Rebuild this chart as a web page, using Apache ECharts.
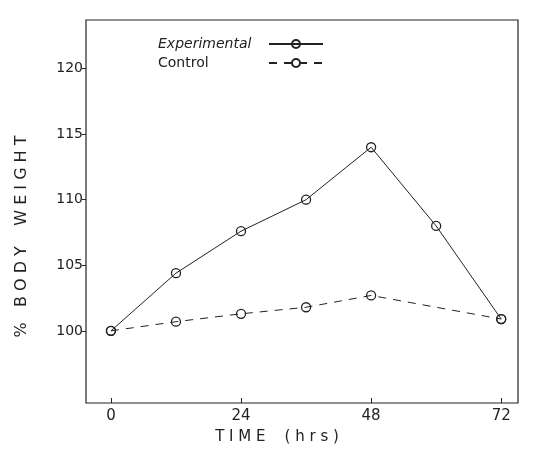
<!DOCTYPE html>
<html>
<head>
<meta charset="utf-8">
<script src="https://cdn.jsdelivr.net/npm/echarts@6/dist/echarts.min.js"></script>
<style>
    html, body { margin: 0; padding: 0; background: #fff; }
    #chart { width: 535px; height: 450px; }
</style>
</head>
<body>
<div id="chart"></div>
<script>
    // values (hours, % body weight)
    var hours = [0, 12, 24, 36, 48, 60, 72];
    var experimental = [100, 104.4, 107.6, 110.0, 114.0, 108.0, 100.9];
    var control = [100, 100.7, 101.3, 101.8, 102.7, null, 100.9];
    var xTicks = [0, 24, 48, 72];
    var yTicks = [100, 105, 110, 115, 120];

    var ink = '#222';
    var font = 'DejaVu Sans';

    function pairs (vals) {
        var out = [];
        hours.forEach(function (h, i) {
            if (vals[i] !== null) {
                out.push([h, vals[i]]);
            }
        });
        return out;
    }

    var chart = echarts.init(document.getElementById('chart'), null, { renderer: 'canvas' });

    var opt = {
        backgroundColor: '#fff',
        animation: false,
        grid: {
            left: 86,
            top: 20,
            right: 17,
            bottom: 39,
            show: true,
            borderColor: ink,
            borderWidth: 1.2
        },
        legend: {
            orient: 'vertical',
            left: 153,
            top: 32,
            align: 'right',
            itemGap: 5,
            itemWidth: 54,
            itemHeight: 10,
            data: ['Experimental', 'Control'],
            formatter: function (name) {
                return name === 'Experimental' ? '{i|' + name + '}' : '{n|' + name + '}';
            },
            textStyle: {
                width: 106,
                align: 'left',
                rich: {
                    i: { fontFamily: font, fontSize: 14, fontStyle: 'italic', color: ink, align: 'left' },
                    n: { fontFamily: font, fontSize: 14, color: ink, align: 'left' }
                }
            }
        },
        xAxis: {
            type: 'value',
            min: -4.6,
            max: 75.1,
            name: 'T I M E    ( h r s )',
            nameLocation: 'middle',
            nameGap: 27,
            nameTextStyle: { fontFamily: font, fontSize: 15, color: ink, padding: [0, 50, 0, 0] },
            splitLine: { show: false },
            axisLine: { show: false, onZero: false },
            axisTick: {
                show: true,
                inside: true,
                length: 5,
                customValues: xTicks,
                lineStyle: { color: ink }
            },
            axisLabel: {
                customValues: xTicks,
                margin: 6,
                fontFamily: font,
                fontSize: 15,
                color: ink
            }
        },
        yAxis: {
            type: 'value',
            min: 94.5,
            max: 123.7,
            name: '%   B O D Y    W E I G H T',
            nameLocation: 'middle',
            nameGap: 56,
            nameTextStyle: { fontFamily: font, fontSize: 16, color: ink, padding: [0, 50, 0, 0] },
            splitLine: { show: false },
            axisLine: { show: false, onZero: false },
            axisTick: {
                show: true,
                length: 4,
                customValues: yTicks,
                lineStyle: { color: ink }
            },
            axisLabel: {
                customValues: yTicks,
                margin: 3,
                fontFamily: font,
                fontSize: 14,
                color: ink
            }
        },
        series: [
            {
                name: 'Experimental',
                type: 'line',
                data: pairs(experimental),
                symbol: 'circle',
                symbolSize: 9,
                lineStyle: { color: ink, width: 1 },
                itemStyle: { color: 'rgba(0,0,0,0)', borderColor: ink, borderWidth: 1.3 }
            },
            {
                name: 'Control',
                type: 'line',
                data: pairs(control),
                symbol: 'circle',
                symbolSize: 9,
                lineStyle: { color: ink, width: 1, type: [8, 7] },
                itemStyle: { color: 'rgba(0,0,0,0)', borderColor: ink, borderWidth: 1.3 }
            }
        ]
    };

    chart.setOption(opt);
</script>
</body>
</html>
